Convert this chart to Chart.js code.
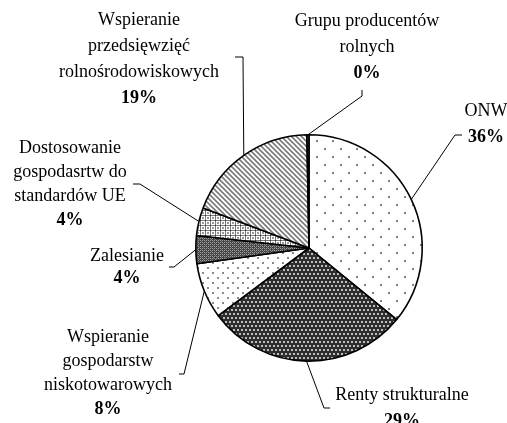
<!DOCTYPE html>
<html>
<head>
<meta charset="utf-8">
<script src="https://cdn.jsdelivr.net/npm/chart.js@4.4.1/dist/chart.umd.min.js"></script>
<style>
  body { margin: 0; background: #fff; }
  canvas { display: block; }
</style>
</head>
<body>
<canvas id="wykres" width="507" height="423"></canvas>
<script>
// dane
const kategorie = ['ONW', 'Renty strukturalne', 'Wspieranie gospodarstw niskotowarowych',
    'Zalesianie', 'Dostosowanie gospodasrtw do standardów UE',
    'Wspieranie przedsięwzięć rolnośrodowiskowych', 'Grupu producentów rolnych'];
const wartosci = [36, 29, 8, 4, 4, 19, 0.3];
const procenty = ['36%', '29%', '8%', '4%', '4%', '19%', '0%'];

// podpisy (linie tekstu) i ich rozmieszczenie
const podpisy = [
    ['ONW'],
    ['Renty strukturalne'],
    ['Wspieranie', 'gospodarstw', 'niskotowarowych'],
    ['Zalesianie'],
    ['Dostosowanie', 'gospodasrtw do', 'standardów UE'],
    ['Wspieranie', 'przedsięwzięć', 'rolnośrodowiskowych'],
    ['Grupu producentów', 'rolnych']
];
const pozycje = [
    { x: 486, y: 111, lh: 26, linia: [[455, 135], [462, 135]] },
    { x: 402, y: 395, lh: 26, linia: [[324, 408], [330, 408]] },
    { x: 108, y: 337, lh: 24, linia: [[184, 374], [179, 374]] },
    { x: 127, y: 256, lh: 22, linia: [[174, 267], [169, 267]] },
    { x: 70, y: 148, lh: 24, linia: [[140, 184], [133, 184]] },
    { x: 139, y: 20, lh: 26, linia: [[243, 57], [235, 57]] },
    { x: 367, y: 21, lh: 26, linia: [[362, 96], [362, 90]] }
];

const canvas = document.getElementById('wykres');
const ctx = canvas.getContext('2d');

function wzor(rozmiar, rysuj) {
    const c = document.createElement('canvas');
    c.width = rozmiar; c.height = rozmiar;
    const g = c.getContext('2d');
    rysuj(g, rozmiar);
    return ctx.createPattern(c, 'repeat');
}

const wzory = [
    // ONW - rzadkie kropki
    wzor(16, (g) => {
        g.fillStyle = '#fff'; g.fillRect(0, 0, 16, 16);
        g.fillStyle = '#808080';
        g.fillRect(4, 4, 2, 2); g.fillRect(12, 12, 2, 2);
    }),
    // renty - ciemne tło, jasne kropki
    wzor(8, (g) => {
        g.fillStyle = '#2e2e2e'; g.fillRect(0, 0, 8, 8);
        g.fillStyle = '#bdbdbd';
        g.fillRect(1, 1, 2, 2); g.fillRect(5, 1, 2, 2);
        g.fillRect(3, 5, 2, 2); g.fillRect(7, 5, 1, 2); g.fillRect(0, 5, 1, 2);
    }),
    // niskotowarowe - gęstsze kropki
    wzor(10, (g) => {
        g.fillStyle = '#fff'; g.fillRect(0, 0, 10, 10);
        g.fillStyle = '#8a8a8a';
        g.fillRect(2, 2, 2, 2); g.fillRect(7, 7, 2, 2);
    }),
    // zalesianie - ciemna kratka
    wzor(4, (g) => {
        g.fillStyle = '#444'; g.fillRect(0, 0, 4, 4);
        g.fillStyle = '#a0a0a0';
        g.fillRect(0, 0, 1, 1); g.fillRect(2, 2, 1, 1);
        g.fillRect(2, 0, 1, 1); g.fillRect(0, 2, 1, 1);
        g.fillStyle = '#777';
        g.fillRect(1, 1, 1, 1); g.fillRect(3, 3, 1, 1);
    }),
    // dostosowanie - jasna kratka
    wzor(5, (g) => {
        g.fillStyle = '#fff'; g.fillRect(0, 0, 5, 5);
        g.fillStyle = '#7a7a7a';
        g.fillRect(0, 0, 5, 1); g.fillRect(0, 0, 1, 5);
        g.fillStyle = '#333';
        g.fillRect(0, 0, 1, 1);
        g.fillStyle = '#999';
        g.fillRect(2, 2, 2, 2);
    }),
    // rolnośrodowiskowe - ukośne paski
    wzor(5, (g, s) => {
        g.fillStyle = '#fff'; g.fillRect(0, 0, s, s);
        g.strokeStyle = '#7a7a7a'; g.lineWidth = 1.6;
        g.beginPath();
        g.moveTo(-1, -1); g.lineTo(s + 1, s + 1);
        g.moveTo(-1, s - 1); g.lineTo(1, s + 1);
        g.moveTo(s - 1, -1); g.lineTo(s + 1, 1);
        g.stroke();
    }),
    '#555'
];

const podpisyPlugin = {
    id: 'podpisy',
    afterDraw(chart) {
        const c = chart.ctx;
        const meta = chart.getDatasetMeta(0);
        c.save();
        c.strokeStyle = '#000';
        c.lineWidth = 1;
        c.fillStyle = '#000';
        c.textAlign = 'center';
        c.textBaseline = 'middle';
        meta.data.forEach((luk, i) => {
            const p = luk.getProps(['x', 'y', 'startAngle', 'endAngle', 'outerRadius'], true);
            const kat = (p.startAngle + p.endAngle) / 2;
            const ex = p.x + Math.cos(kat) * p.outerRadius;
            const ey = p.y + Math.sin(kat) * p.outerRadius;
            const poz = pozycje[i];
            c.beginPath();
            c.moveTo(ex, ey);
            poz.linia.forEach(pt => c.lineTo(pt[0], pt[1]));
            c.stroke();

            c.font = '18px "Liberation Serif", "Times New Roman", serif';
            podpisy[i].forEach((t, j) => c.fillText(t, poz.x, poz.y + j * poz.lh));
            c.font = 'bold 18px "Liberation Serif", "Times New Roman", serif';
            c.fillText(procenty[i], poz.x, poz.y + podpisy[i].length * poz.lh);
        });
        c.restore();
    }
};

new Chart(ctx, {
    type: 'pie',
    data: {
        labels: kategorie,
        datasets: [{
            data: wartosci,
            backgroundColor: wzory,
            borderColor: '#000',
            borderWidth: 1.6
        }]
    },
    options: {
        responsive: false,
        animation: false,
        devicePixelRatio: 1,
        layout: { padding: { top: 134, bottom: 61, left: 195, right: 84 } },
        plugins: {
            legend: { display: false },
            tooltip: { enabled: false }
        }
    },
    plugins: [podpisyPlugin]
});
</script>
</body>
</html>
